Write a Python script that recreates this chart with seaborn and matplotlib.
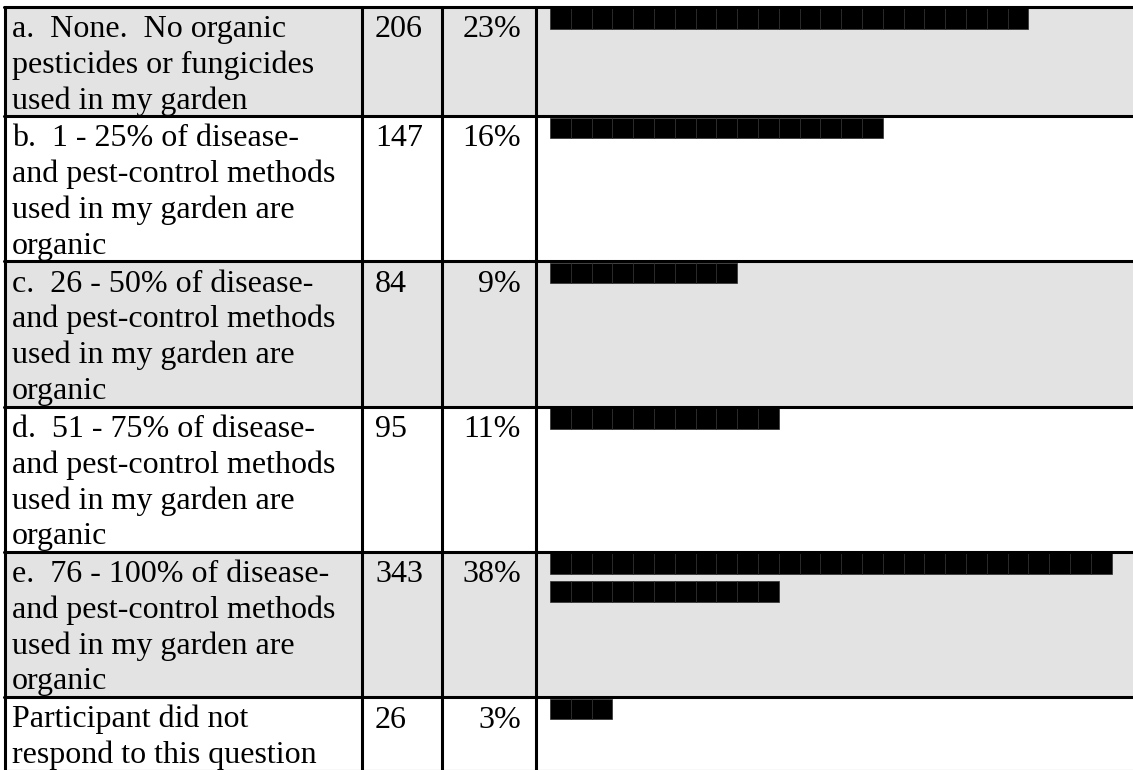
import numpy as np
import matplotlib
matplotlib.use("Agg")
import matplotlib.pyplot as plt
import seaborn as sns

# Survey answers (one row per answer choice)
labels = [
    "a.  None.  No organic\npesticides or fungicides\nused in my garden",
    "b.  1 - 25% of disease-\nand pest-control methods\nused in my garden are\norganic",
    "c.  26 - 50% of disease-\nand pest-control methods\nused in my garden are\norganic",
    "d.  51 - 75% of disease-\nand pest-control methods\nused in my garden are\norganic",
    "e.  76 - 100% of disease-\nand pest-control methods\nused in my garden are\norganic",
    "Participant did not\nrespond to this question",
]
counts = [206, 147, 84, 95, 343, 26]
percents = [23, 16, 9, 11, 38, 3]

# Layout (pixels)
W, H = 1133, 770
LINE = 35.75
PAD = 2.25
TOP = 6.5
COL_X = [5, 362, 442, 536]
BAR_X0 = 550
BLOCK_W = 20.8
BLOCKS_PER_LINE = 27
BAR_LINE_GAP = 28
GRAY = "#e3e3e3"

sns.set_theme(style="white")
plt.rcParams["font.family"] = ["Liberation Serif", "DejaVu Serif"]
plt.rcParams["text.color"] = "black"

fig = plt.figure(figsize=(W / 100, H / 100), dpi=100)
ax = fig.add_axes([0, 0, 1, 1])
ax.set_xlim(0, W)
ax.set_ylim(H, 0)
ax.axis("off")

n_lines = [lab.count("\n") + 1 for lab in labels]
row_h = np.array(n_lines) * LINE + PAD
row_top = TOP + np.concatenate([[0], np.cumsum(row_h)[:-1]])

# shaded rows (a, c, e)
shade = np.arange(len(labels)) % 2 == 0
ax.barh(row_top[shade], W - COL_X[0], left=COL_X[0], height=row_h[shade],
        align="edge", color=GRAY, linewidth=0, zorder=0)

# text cells
for top, lab, cnt, pct in zip(row_top, labels, counts, percents):
    base = top + 30.5
    for i, line in enumerate(lab.split("\n")):
        ax.text(12, base + i * LINE, line, fontsize=23, va="baseline",
                ha="left", color="black")
    ax.text(375, base, str(cnt), fontsize=23, va="baseline", ha="left",
            color="black")
    ax.text(521, base, f"{pct}%", fontsize=23, va="baseline", ha="right",
            color="black")

# block bars: one block per percent, wrapping after 27 blocks
lefts, tops = [], []
for top, pct in zip(row_top, percents):
    k = np.arange(pct)
    lefts.append(BAR_X0 + (k % BLOCKS_PER_LINE) * BLOCK_W)
    tops.append(top + 1.5 + (k // BLOCKS_PER_LINE) * BAR_LINE_GAP)
lefts = np.concatenate(lefts)
tops = np.concatenate(tops)
ax.barh(tops, BLOCK_W, left=lefts, height=20.5, align="edge",
        color="black", edgecolor="#2e2e2e", linewidth=0.5, zorder=2)

# grid lines
for y in np.append(row_top, row_top[-1] + row_h[-1]):
    ax.plot([COL_X[0] - 1, W], [y, y], color="black", lw=2.2, zorder=3)
for x in COL_X:
    ax.plot([x, x], [TOP, H], color="black", lw=2.2, zorder=3)

fig.savefig("out.png", dpi=100)
